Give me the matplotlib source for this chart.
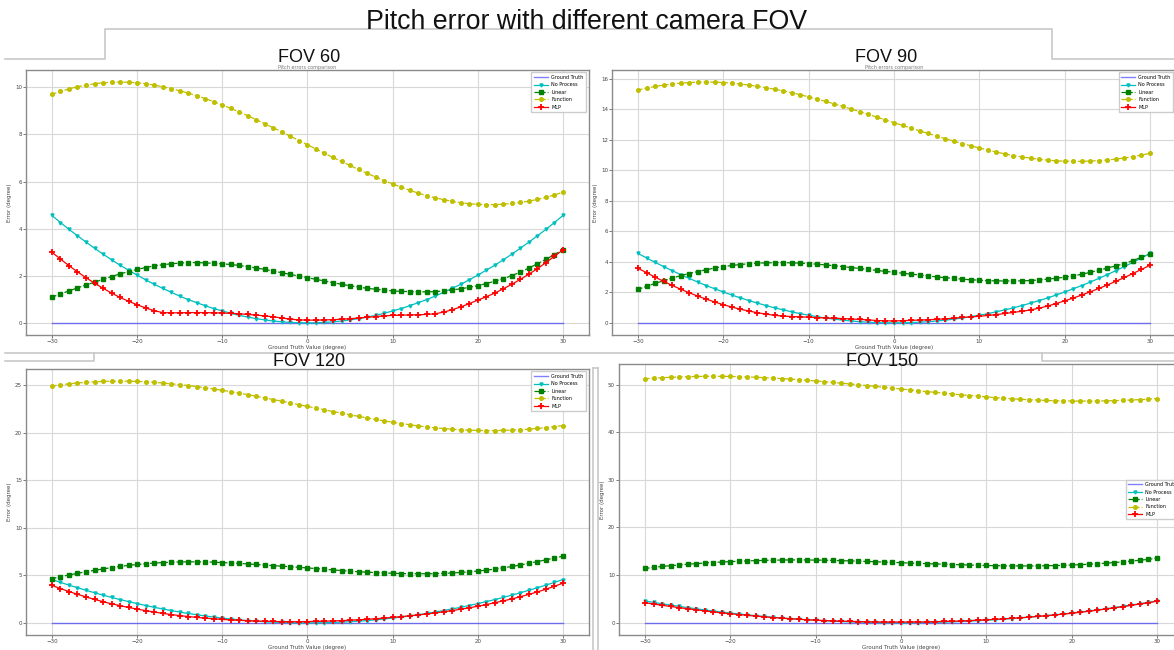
import matplotlib
matplotlib.use("Agg")
import matplotlib.pyplot as plt
from matplotlib.lines import Line2D

# pitch angle sweep (degree)
pitch = list(range(-30, 31))

ground_truth = [0.0] * 61

# raw error without any correction (same for every FOV)
no_process = [4.56, 4.26, 3.97, 3.70, 3.43, 3.17, 2.92, 2.68, 2.45, 2.24, 2.03,
              1.83, 1.64, 1.47, 1.30, 1.14, 0.99, 0.86, 0.73, 0.61, 0.51,
              0.41, 0.32, 0.25, 0.18, 0.13, 0.08, 0.05, 0.02, 0.01, 0.00,
              0.01, 0.02, 0.05, 0.08, 0.13, 0.18, 0.25, 0.32, 0.41, 0.51,
              0.61, 0.73, 0.86, 0.99, 1.14, 1.30, 1.47, 1.64, 1.83, 2.03,
              2.24, 2.45, 2.68, 2.92, 3.17, 3.43, 3.70, 3.97, 4.26, 4.56]

# FOV 60
lin_60 = [1.10, 1.23, 1.36, 1.49, 1.61, 1.73, 1.85, 1.97, 2.08, 2.18, 2.27,
          2.35, 2.42, 2.47, 2.51, 2.54, 2.56, 2.56, 2.55, 2.53, 2.51,
          2.48, 2.44, 2.39, 2.33, 2.27, 2.20, 2.13, 2.06, 1.99, 1.92,
          1.85, 1.78, 1.71, 1.64, 1.58, 1.52, 1.47, 1.43, 1.39, 1.36,
          1.34, 1.33, 1.32, 1.32, 1.33, 1.36, 1.40, 1.45, 1.51, 1.58,
          1.67, 1.77, 1.88, 2.01, 2.16, 2.33, 2.51, 2.70, 2.90, 3.11]
func_60 = [9.70, 9.82, 9.93, 10.02, 10.09, 10.15, 10.19, 10.21, 10.22, 10.21, 10.19,
           10.15, 10.09, 10.02, 9.94, 9.85, 9.75, 9.64, 9.52, 9.39, 9.25,
           9.10, 8.95, 8.79, 8.62, 8.45, 8.28, 8.10, 7.92, 7.74, 7.56,
           7.38, 7.20, 7.02, 6.85, 6.68, 6.51, 6.35, 6.19, 6.04, 5.90,
           5.76, 5.63, 5.51, 5.40, 5.31, 5.23, 5.16, 5.10, 5.06, 5.03,
           5.02, 5.02, 5.04, 5.07, 5.11, 5.17, 5.24, 5.33, 5.43, 5.55]
mlp_60 = [3.00, 2.71, 2.43, 2.17, 1.92, 1.69, 1.47, 1.27, 1.08, 0.92, 0.77,
          0.64, 0.52, 0.44, 0.43, 0.43, 0.44, 0.44, 0.44, 0.43, 0.42,
          0.41, 0.39, 0.36, 0.33, 0.30, 0.26, 0.21, 0.16, 0.13, 0.12,
          0.12, 0.13, 0.14, 0.16, 0.18, 0.21, 0.24, 0.27, 0.30, 0.32,
          0.33, 0.34, 0.35, 0.36, 0.39, 0.46, 0.56, 0.68, 0.82, 0.97,
          1.11, 1.27, 1.45, 1.64, 1.85, 2.07, 2.30, 2.56, 2.83, 3.10]

# FOV 90
lin_90 = [2.20, 2.40, 2.59, 2.77, 2.94, 3.10, 3.24, 3.37, 3.49, 3.60, 3.69,
          3.77, 3.83, 3.88, 3.92, 3.94, 3.95, 3.95, 3.94, 3.92, 3.89,
          3.85, 3.80, 3.75, 3.69, 3.63, 3.57, 3.51, 3.44, 3.38, 3.32,
          3.26, 3.20, 3.14, 3.08, 3.02, 2.97, 2.92, 2.87, 2.83, 2.80,
          2.77, 2.76, 2.75, 2.75, 2.76, 2.78, 2.82, 2.87, 2.93, 3.00,
          3.09, 3.19, 3.32, 3.45, 3.60, 3.74, 3.89, 4.09, 4.31, 4.53]
func_90 = [15.27, 15.39, 15.50, 15.59, 15.66, 15.72, 15.76, 15.78, 15.79, 15.78, 15.76,
           15.72, 15.66, 15.59, 15.51, 15.42, 15.32, 15.21, 15.09, 14.96, 14.82,
           14.67, 14.52, 14.36, 14.19, 14.02, 13.85, 13.67, 13.49, 13.31, 13.13,
           12.95, 12.77, 12.59, 12.42, 12.25, 12.08, 11.92, 11.76, 11.61, 11.47,
           11.33, 11.20, 11.08, 10.97, 10.88, 10.80, 10.73, 10.67, 10.63, 10.60,
           10.59, 10.59, 10.61, 10.64, 10.68, 10.74, 10.81, 10.90, 11.00, 11.12]
mlp_90 = [3.58, 3.30, 3.00, 2.73, 2.46, 2.21, 1.98, 1.76, 1.56, 1.37, 1.20,
          1.04, 0.90, 0.78, 0.67, 0.58, 0.50, 0.45, 0.42, 0.40, 0.38,
          0.35, 0.33, 0.31, 0.29, 0.26, 0.23, 0.20, 0.16, 0.14, 0.13,
          0.15, 0.17, 0.19, 0.21, 0.24, 0.27, 0.31, 0.36, 0.40, 0.44,
          0.49, 0.55, 0.62, 0.69, 0.77, 0.85, 0.97, 1.11, 1.27, 1.45,
          1.63, 1.83, 2.04, 2.26, 2.49, 2.73, 2.98, 3.24, 3.51, 3.78]

# FOV 120
lin_120 = [4.65, 4.86, 5.04, 5.21, 5.38, 5.53, 5.67, 5.81, 5.94, 6.05, 6.14,
           6.22, 6.29, 6.34, 6.38, 6.41, 6.42, 6.42, 6.41, 6.38, 6.34,
           6.30, 6.25, 6.20, 6.14, 6.08, 6.02, 5.96, 5.90, 5.84, 5.78,
           5.71, 5.64, 5.57, 5.50, 5.44, 5.38, 5.33, 5.29, 5.25, 5.22,
           5.19, 5.18, 5.17, 5.17, 5.18, 5.21, 5.25, 5.30, 5.37, 5.45,
           5.55, 5.66, 5.79, 5.93, 6.09, 6.26, 6.44, 6.63, 6.82, 7.02]
func_120 = [24.90, 25.02, 25.13, 25.22, 25.29, 25.35, 25.39, 25.41, 25.42, 25.41, 25.39,
            25.35, 25.29, 25.22, 25.14, 25.05, 24.95, 24.84, 24.72, 24.59, 24.45,
            24.30, 24.15, 23.99, 23.82, 23.65, 23.48, 23.30, 23.12, 22.94, 22.76,
            22.58, 22.40, 22.22, 22.05, 21.88, 21.71, 21.55, 21.39, 21.24, 21.10,
            20.96, 20.83, 20.71, 20.60, 20.51, 20.43, 20.36, 20.30, 20.26, 20.23,
            20.22, 20.22, 20.24, 20.27, 20.31, 20.37, 20.44, 20.53, 20.63, 20.75]
mlp_120 = [3.94, 3.61, 3.30, 3.01, 2.73, 2.47, 2.23, 2.01, 1.81, 1.62, 1.45,
           1.29, 1.14, 1.00, 0.88, 0.77, 0.67, 0.58, 0.50, 0.43, 0.37,
           0.31, 0.27, 0.23, 0.20, 0.17, 0.15, 0.14, 0.13, 0.13, 0.14,
           0.16, 0.18, 0.21, 0.24, 0.28, 0.33, 0.38, 0.44, 0.51, 0.58,
           0.66, 0.75, 0.84, 0.94, 1.05, 1.17, 1.30, 1.44, 1.59, 1.75,
           1.93, 2.12, 2.32, 2.52, 2.75, 3.00, 3.26, 3.54, 3.85, 4.18]

# FOV 150
lin_150 = [11.38, 11.60, 11.80, 11.97, 12.12, 12.27, 12.40, 12.52, 12.63, 12.73, 12.82,
           12.90, 12.97, 13.03, 13.08, 13.12, 13.15, 13.17, 13.17, 13.16, 13.14,
           13.11, 13.07, 13.02, 12.97, 12.91, 12.85, 12.79, 12.72, 12.66, 12.59,
           12.52, 12.46, 12.39, 12.33, 12.27, 12.21, 12.15, 12.10, 12.05, 12.01,
           11.97, 11.94, 11.92, 11.91, 11.91, 11.92, 11.95, 11.99, 12.04, 12.10,
           12.18, 12.27, 12.37, 12.49, 12.62, 12.77, 12.93, 13.11, 13.30, 13.55]
func_150 = [51.20, 51.32, 51.43, 51.52, 51.59, 51.65, 51.69, 51.71, 51.72, 51.71, 51.69,
            51.65, 51.59, 51.52, 51.44, 51.35, 51.25, 51.14, 51.02, 50.89, 50.75,
            50.60, 50.45, 50.29, 50.12, 49.95, 49.78, 49.60, 49.42, 49.24, 49.06,
            48.88, 48.70, 48.52, 48.35, 48.18, 48.01, 47.85, 47.69, 47.54, 47.40,
            47.26, 47.13, 47.01, 46.90, 46.81, 46.73, 46.66, 46.60, 46.56, 46.53,
            46.52, 46.52, 46.54, 46.57, 46.61, 46.67, 46.74, 46.83, 46.93, 47.05]
mlp_150 = [4.20, 3.92, 3.66, 3.40, 3.16, 2.93, 2.70, 2.48, 2.27, 2.07, 1.88,
           1.70, 1.53, 1.37, 1.22, 1.08, 0.95, 0.83, 0.72, 0.62, 0.53,
           0.45, 0.38, 0.32, 0.27, 0.23, 0.19, 0.17, 0.15, 0.14, 0.14,
           0.15, 0.16, 0.18, 0.21, 0.25, 0.30, 0.36, 0.44, 0.53, 0.62,
           0.71, 0.81, 0.92, 1.04, 1.17, 1.31, 1.46, 1.62, 1.79, 1.97,
           2.17, 2.39, 2.62, 2.86, 3.11, 3.37, 3.64, 3.92, 4.21, 4.50]

fov_names = ["FOV 60", "FOV 90", "FOV 120", "FOV 150"]
linear_sets = [lin_60, lin_90, lin_120, lin_150]
function_sets = [func_60, func_90, func_120, func_150]
mlp_sets = [mlp_60, mlp_90, mlp_120, mlp_150]
y_steps = [2, 2, 5, 10]
y_tops = [10, 16, 25, 50]
legend_locs = ["upper right", "upper right", "upper right", "center right"]

W, H = 1174, 650
fig = plt.figure(figsize=(W / 100, H / 100), dpi=100)
fig.patch.set_facecolor("white")


def px(x, y):
    return x / W, 1 - y / H


# axes boxes in pixels: left, top, right, bottom
boxes = [(26.4, 70, 588.5, 335),
         (612.4, 70, 1175.6, 335),
         (26.4, 369, 588.5, 635),
         (619.4, 364, 1182.6, 635)]
# slide captions above each chart
caption_xy = [(309, 57), (886, 57), (309, 362), (882, 362)]

for i in range(4):
    l, t, r, b = boxes[i]
    ax = fig.add_axes([l / W, 1 - b / H, (r - l) / W, (b - t) / H])
    ax.plot(pitch, ground_truth, color="b", alpha=0.5, lw=1.0, label="Ground Truth")
    ax.plot(pitch, no_process, color="c", lw=0.9, marker="v", ms=2.2,
            label="No Process")
    ax.plot(pitch, linear_sets[i], color="g", ls="--", lw=0.9, marker="s", ms=2.4,
            label="Linear")
    ax.plot(pitch, function_sets[i], color="y", ls="--", lw=0.9, marker="o", ms=2.6,
            label="Function")
    ax.plot(pitch, mlp_sets[i], color="r", lw=0.9, marker="+", ms=4, mew=1.3,
            label="MLP")

    ax.set_xlim(-33, 33)
    ax.set_xticks(range(-30, 31, 10))
    ax.set_yticks(range(0, y_tops[i] + 1, y_steps[i]))
    ax.grid(True, color="#d8d8d8", lw=0.8)
    ax.set_axisbelow(True)
    for s in ax.spines.values():
        s.set_color("#8a8a8a")
        s.set_linewidth(1.0)
    ax.tick_params(labelsize=4, length=2, width=0.5, pad=1.2,
                   colors="#444444")
    ax.set_xlabel("Ground Truth Value (degree)", fontsize=4, color="#444444",
                  labelpad=0.5)
    ax.set_ylabel("Error (degree)", fontsize=4, color="#444444", labelpad=2)
    if i < 2:
        # lower captions sit on top of this small heading
        ax.set_title("Pitch errors comparison", fontsize=3.5, color="#777777",
                     pad=1)
    ax.legend(loc=legend_locs[i], fontsize=3.5, handlelength=2.8,
              labelspacing=0.5, borderpad=0.5, framealpha=1.0,
              edgecolor="#cccccc", fancybox=False)

    cx, cy = caption_xy[i]
    fig.text(*px(cx, cy), fov_names[i], ha="center", va="center", fontsize=13,
             family="Liberation Sans", color="#111111")

# slide frame lines
line_col = "#c8c8c8"
frame = [([5, 105, 105, 1052, 1052, 1174], [59, 59, 29, 29, 59, 59]),
         ([5, 1174], [353, 353]),
         ([5, 94, 94], [361, 361, 353]),
         ([1042, 1042, 1174], [353, 361, 361]),
         ([593, 593], [368, 650]),
         ([598, 598], [368, 650]),
         ([593, 598], [368, 368])]
for xs, ys in frame:
    fig.add_artist(Line2D([x / W for x in xs], [1 - y / H for y in ys],
                          transform=fig.transFigure, color=line_col, lw=1.2))

fig.text(*px(587, 22), "Pitch error with different camera FOV", ha="center",
         va="center", fontsize=19.3, family="Liberation Sans", color="#111111")

fig.savefig("out.png", dpi=100)
